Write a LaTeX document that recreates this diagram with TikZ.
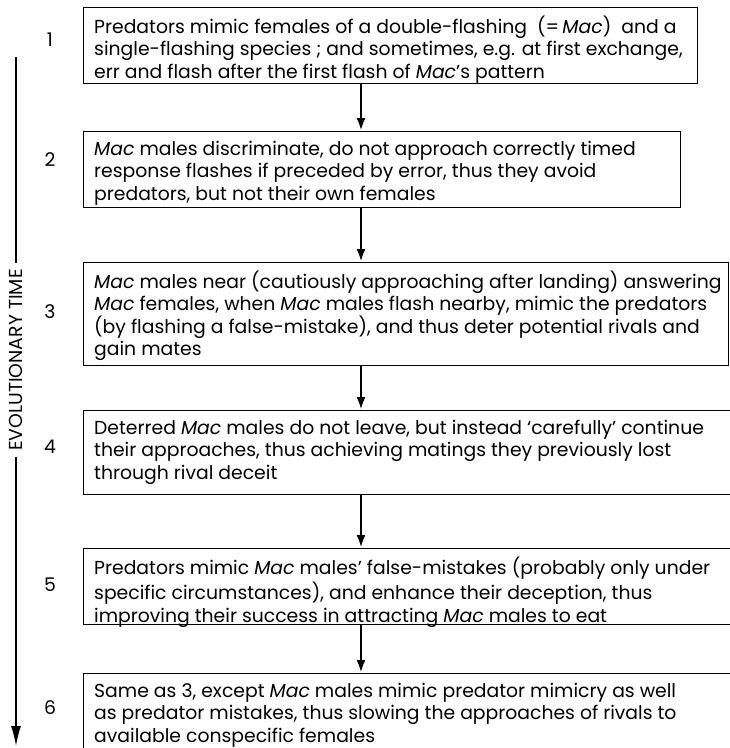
\documentclass[tikz,border=0pt]{standalone}
\usepackage{fontspec}
\setmainfont{Poppins}
\usetikzlibrary{arrows.meta}

\tikzset{
  x=1pt, y=-1pt,
  bodyfont/.style={font=\fontsize{18.8}{22.5}\selectfont},
  stagebox/.style={draw, line width=1.1pt, anchor=north west, inner sep=0pt},
  stagetext/.style={bodyfont, anchor=north west, align=left,
    inner xsep=11pt, inner ysep=8.5pt},
  stepno/.style={bodyfont, inner sep=0pt},
  flow/.style={line width=2.6pt, -{Latex[length=13pt,width=9pt]}},
  timeaxis/.style={line width=1.3pt},
}

\begin{document}
\begin{tikzpicture}
  \useasboundingbox (0,0) rectangle (730,748);
  \clip (0,0) rectangle (730,748);

  % stage boxes
  \node[stagebox, minimum width=614pt, minimum height=76pt] (b1) at (83,7) {};
  \node[stagebox, minimum width=597pt, minimum height=76pt] (b2) at (83,131) {};
  \node[stagebox, minimum width=645pt, minimum height=103pt] (b3) at (83,262) {};
  \node[stagebox, minimum width=660pt, minimum height=84pt] (b4) at (83,410) {};
  \node[stagebox, minimum width=660pt, minimum height=76pt] (b5) at (83,548) {};
  \node[stagebox, minimum width=660pt, minimum height=90pt] (b6) at (83,673) {};

  % stage texts
  \node[stagetext] (t1) at (b1.north west) {\strut Predators mimic females of a double-flashing\ \ (=\,\textit{Mac})\ \ and a\\
    single-flashing species ; and sometimes, e.g. at first exchange,\\
    err and flash after the first flash of \textit{Mac}'s pattern};
  \node[stagetext] (t2) at (b2.north west) {\strut\textit{Mac} males discriminate, do not approach correctly timed\\
    response flashes if preceded by error, thus they avoid\\
    predators, but not their own females};
  \node[stagetext] (t3) at (b3.north west) {\strut\textit{Mac} males near (cautiously approaching after landing) answering\\
    \textit{Mac} females, when \textit{Mac} males flash nearby, mimic the predators\\
    (by flashing a false-mistake), and thus deter potential rivals and\\
    gain mates};
  \node[stagetext] (t4) at (b4.north west) {\strut Deterred \textit{Mac} males do not leave, but instead `carefully' continue\\
    their approaches, thus achieving matings they previously lost\\
    through rival deceit};
  \node[stagetext] (t5) at (b5.north west) {\strut Predators mimic \textit{Mac} males' false-mistakes (probably only under\\
    specific circumstances), and enhance their deception, thus\\
    improving their success in attracting \textit{Mac} males to eat};
  \node[stagetext] (t6) at (b6.north west) {\strut Same as 3, except \textit{Mac} males mimic predator mimicry as well\\
    as predator mistakes, thus slowing the approaches of rivals to\\
    available conspecific females};

  % step numbers
  \node[stepno] (n1) at (50,40) {1};
  \node[stepno] (n2) at (50,160) {2};
  \node[stepno] (n3) at (50,312) {3};
  \node[stepno] (n4) at (50,447) {4};
  \node[stepno] (n5) at (50,585) {5};
  \node[stepno] (n6) at (50,708) {6};

  % arrows between stages
  \coordinate (ax) at (361,0);
  \draw[flow] (b1.south -| ax) -- (b2.north -| ax);
  \draw[flow] (b2.south -| ax) -- (b3.north -| ax);
  \draw[flow] (b3.south -| ax) -- (b4.north -| ax);
  \draw[flow] (b4.south -| ax) -- (b5.north -| ax);
  \draw[flow] (b5.south -| ax) -- (b6.north -| ax);

  % time axis
  \coordinate (axtop) at (16,57);
  \coordinate (axbot) at (16,746);
  \node[bodyfont, rotate=90, inner xsep=6pt, inner ysep=0pt] (evo) at (16,360) {EVOLUTIONARY TIME};
  \draw[timeaxis] (axtop) -- (evo.east);
  \draw[timeaxis, -{Latex[length=20pt,width=10pt]}] (evo.west) -- (axbot);
\end{tikzpicture}
\end{document}
